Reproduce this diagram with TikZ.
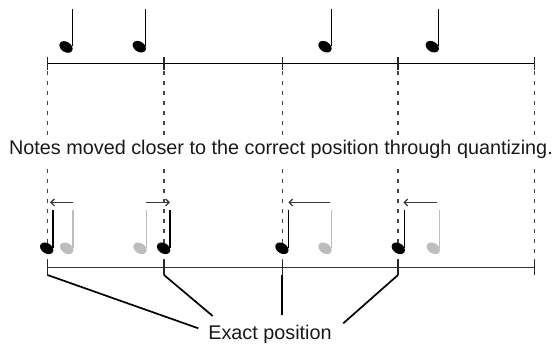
\documentclass[tikz,border=0pt]{standalone}
\usepackage{fontspec}
\setmainfont{Liberation Sans}
\usetikzlibrary{arrows.meta}
\definecolor{notegray}{HTML}{BDBDBD}
\definecolor{dashgray}{HTML}{444444}
\definecolor{arrowgray}{HTML}{3A3A3A}
\tikzset{
  qnote/.pic={
    \begin{scope}[yscale=-1]
      \fill[rotate=33] (0,0) ellipse [x radius=7.2pt, y radius=5.1pt];
      \fill (5.7,0.5) rectangle (7.0,37.8);
    \end{scope}
  },
  axisline/.style={line width=1.4pt, black},
  ticks/.style={line width=1.4pt, black!85},
  guide/.style={dashgray, line width=1.15pt, dash pattern=on 4.5pt off 5.5pt},
  shift arrow/.style={arrowgray, line width=1.3pt, -{Straight Barb[length=3.5pt,width=7pt]}},
  pointer/.style={black, line width=1.7pt},
  label/.style={font=\fontsize{19.8}{23}\selectfont, inner sep=0pt, anchor=base, text=black!90}
}
\begin{document}
\begin{tikzpicture}[x=1pt, y=-1pt]
\useasboundingbox (0,0) rectangle (555,344);
% tick positions
\foreach \n/\x in {1/47.5, 2/164, 3/282.3, 4/398, 5/534.3} {
  \coordinate (ta\n) at (\x,63.3);
  \coordinate (tb\n) at (\x,267.7);
  \coordinate (pb\n) at (\x,275);
}
% top axis
\draw[axisline] (ta1) -- (ta5);
\foreach \n in {1,...,5} {
  \draw[ticks] ([yshift=6.6pt]ta\n) -- ([yshift=-6.7pt]ta\n);
  \draw[guide] ([yshift=-7.5pt]ta\n) -- ++(0,66);
  \draw[guide] ([yshift=-105.5pt]ta\n) -- ([yshift=8pt]tb\n);
}
% bottom axis
\draw[axisline, black!80] (tb1) -- (tb5);
\foreach \n in {1,...,5} {
  \draw[ticks] ([yshift=7.7pt]tb\n) -- ([yshift=-7.3pt]tb\n);
}
% top notes
\pic at (66,47) {qnote};
\pic at (139.3,46.7) {qnote};
\pic at (325,46.7) {qnote};
\pic at (432.3,46.7) {qnote};
% bottom notes: gray (original) and black (quantized)
\pic[color=notegray] at (66.7,248.3) {qnote};
\pic[color=notegray] at (140,248.3) {qnote};
\pic[color=notegray] at (325,248.3) {qnote};
\pic[color=notegray] at (433.3,248.3) {qnote};
\pic at (46.7,248.3) {qnote};
\pic at (163.6,248.3) {qnote};
\pic at (281.9,248.3) {qnote};
\pic at (398.3,248.3) {qnote};
% movement arrows
\coordinate (a1s) at (72.7,202.5); \coordinate (a1e) at (50,202.5);
\coordinate (a2s) at (146,202.5);  \coordinate (a2e) at (170,202.5);
\coordinate (a3s) at (330.3,202.5); \coordinate (a3e) at (288.3,202.5);
\coordinate (a4s) at (437.3,202.5); \coordinate (a4e) at (403.3,202.5);
\draw[shift arrow] (a1s) -- (a1e);
\draw[shift arrow] (a2s) -- (a2e);
\draw[shift arrow] (a3s) -- (a3e);
\draw[shift arrow] (a4s) -- (a4e);
% texts
\node[label] (caption) at (281,155) {Notes moved closer to the correct position through quantizing.};
\node[label] (exact) at (270,339.5) {Exact position};
% pointers
\coordinate (e1) at (198.3,328.3);
\coordinate (e2) at (212.7,316);
\coordinate (e3) at (282.3,315);
\coordinate (e4) at (343.3,323.3);
\draw[pointer] (pb1) -- (e1);
\draw[pointer] (pb2) -- (e2);
\draw[pointer] (pb3) -- (e3);
\draw[pointer] (pb4) -- (e4);
\end{tikzpicture}
\end{document}
